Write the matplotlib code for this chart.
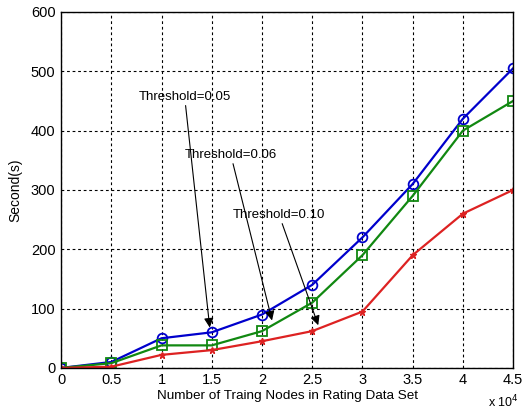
import numpy as np
import matplotlib.pyplot as plt

# data
nodes = [0, 0.5, 1, 1.5, 2, 2.5, 3, 3.5, 4, 4.5]
t005 = [0, 10, 50, 60, 90, 140, 220, 310, 420, 505]
t006 = [0, 8, 38, 38, 62, 110, 190, 290, 400, 450]
t010 = [0, 2, 22, 30, 45, 62, 95, 190, 260, 300]
xticks = [0, 0.5, 1, 1.5, 2, 2.5, 3, 3.5, 4, 4.5]
xticklabels = ['0', '0.5', '1', '1.5', '2', '2.5', '3', '3.5', '4', '4.5']
yticks = [0, 100, 200, 300, 400, 500, 600]

plt.rcParams['font.family'] = ['Liberation Sans', 'DejaVu Sans']

fig = plt.figure(figsize=(5.22, 4.12), dpi=100)
ax = fig.add_axes([0.117, 0.107, 0.866, 0.864])

ax.plot(nodes, t005, color='#0000cc', marker='o', ms=7, mfc='none', mew=1.3, lw=1.6)
ax.plot(nodes, t006, color='#118811', marker='s', ms=7, mfc='none', mew=1.3, lw=1.6)
ax.plot(nodes, t010, color='#dd2222', marker='*', ms=5, lw=1.6)

ax.set_xlim(0, 4.5)
ax.set_ylim(0, 600)
ax.set_xticks(xticks)
ax.set_xticklabels(xticklabels)
ax.set_yticks(yticks)
ax.tick_params(labelsize=10.5, direction='in', length=0, pad=4)
ax.grid(True, color='k', linestyle=(0, (2.5, 2.5)), lw=0.8)
for s in ax.spines.values():
    s.set_linewidth(1.0)

ax.set_xlabel('Number of Traing Nodes in Rating Data Set', fontsize=9.7, labelpad=2)
ax.set_ylabel('Second(s)', fontsize=10, labelpad=6)
fig.text(0.935, 0.012, 'x 10$^4$', fontsize=9)

arrow = dict(arrowstyle='-|>', color='k', lw=0.8, mutation_scale=14, shrinkA=0, shrinkB=0)
ax.annotate('Threshold=0.05', xy=(1.48, 68), xytext=(1.23, 457),
            fontsize=9.5, ha='center', va='center', arrowprops=arrow)
ax.annotate('Threshold=0.06', xy=(2.1, 80), xytext=(1.69, 359),
            fontsize=9.5, ha='center', va='center', arrowprops=arrow)
ax.annotate('Threshold=0.10', xy=(2.56, 72), xytext=(2.17, 258),
            fontsize=9.5, ha='center', va='center', arrowprops=arrow)

fig.savefig('out.png', dpi=100)
